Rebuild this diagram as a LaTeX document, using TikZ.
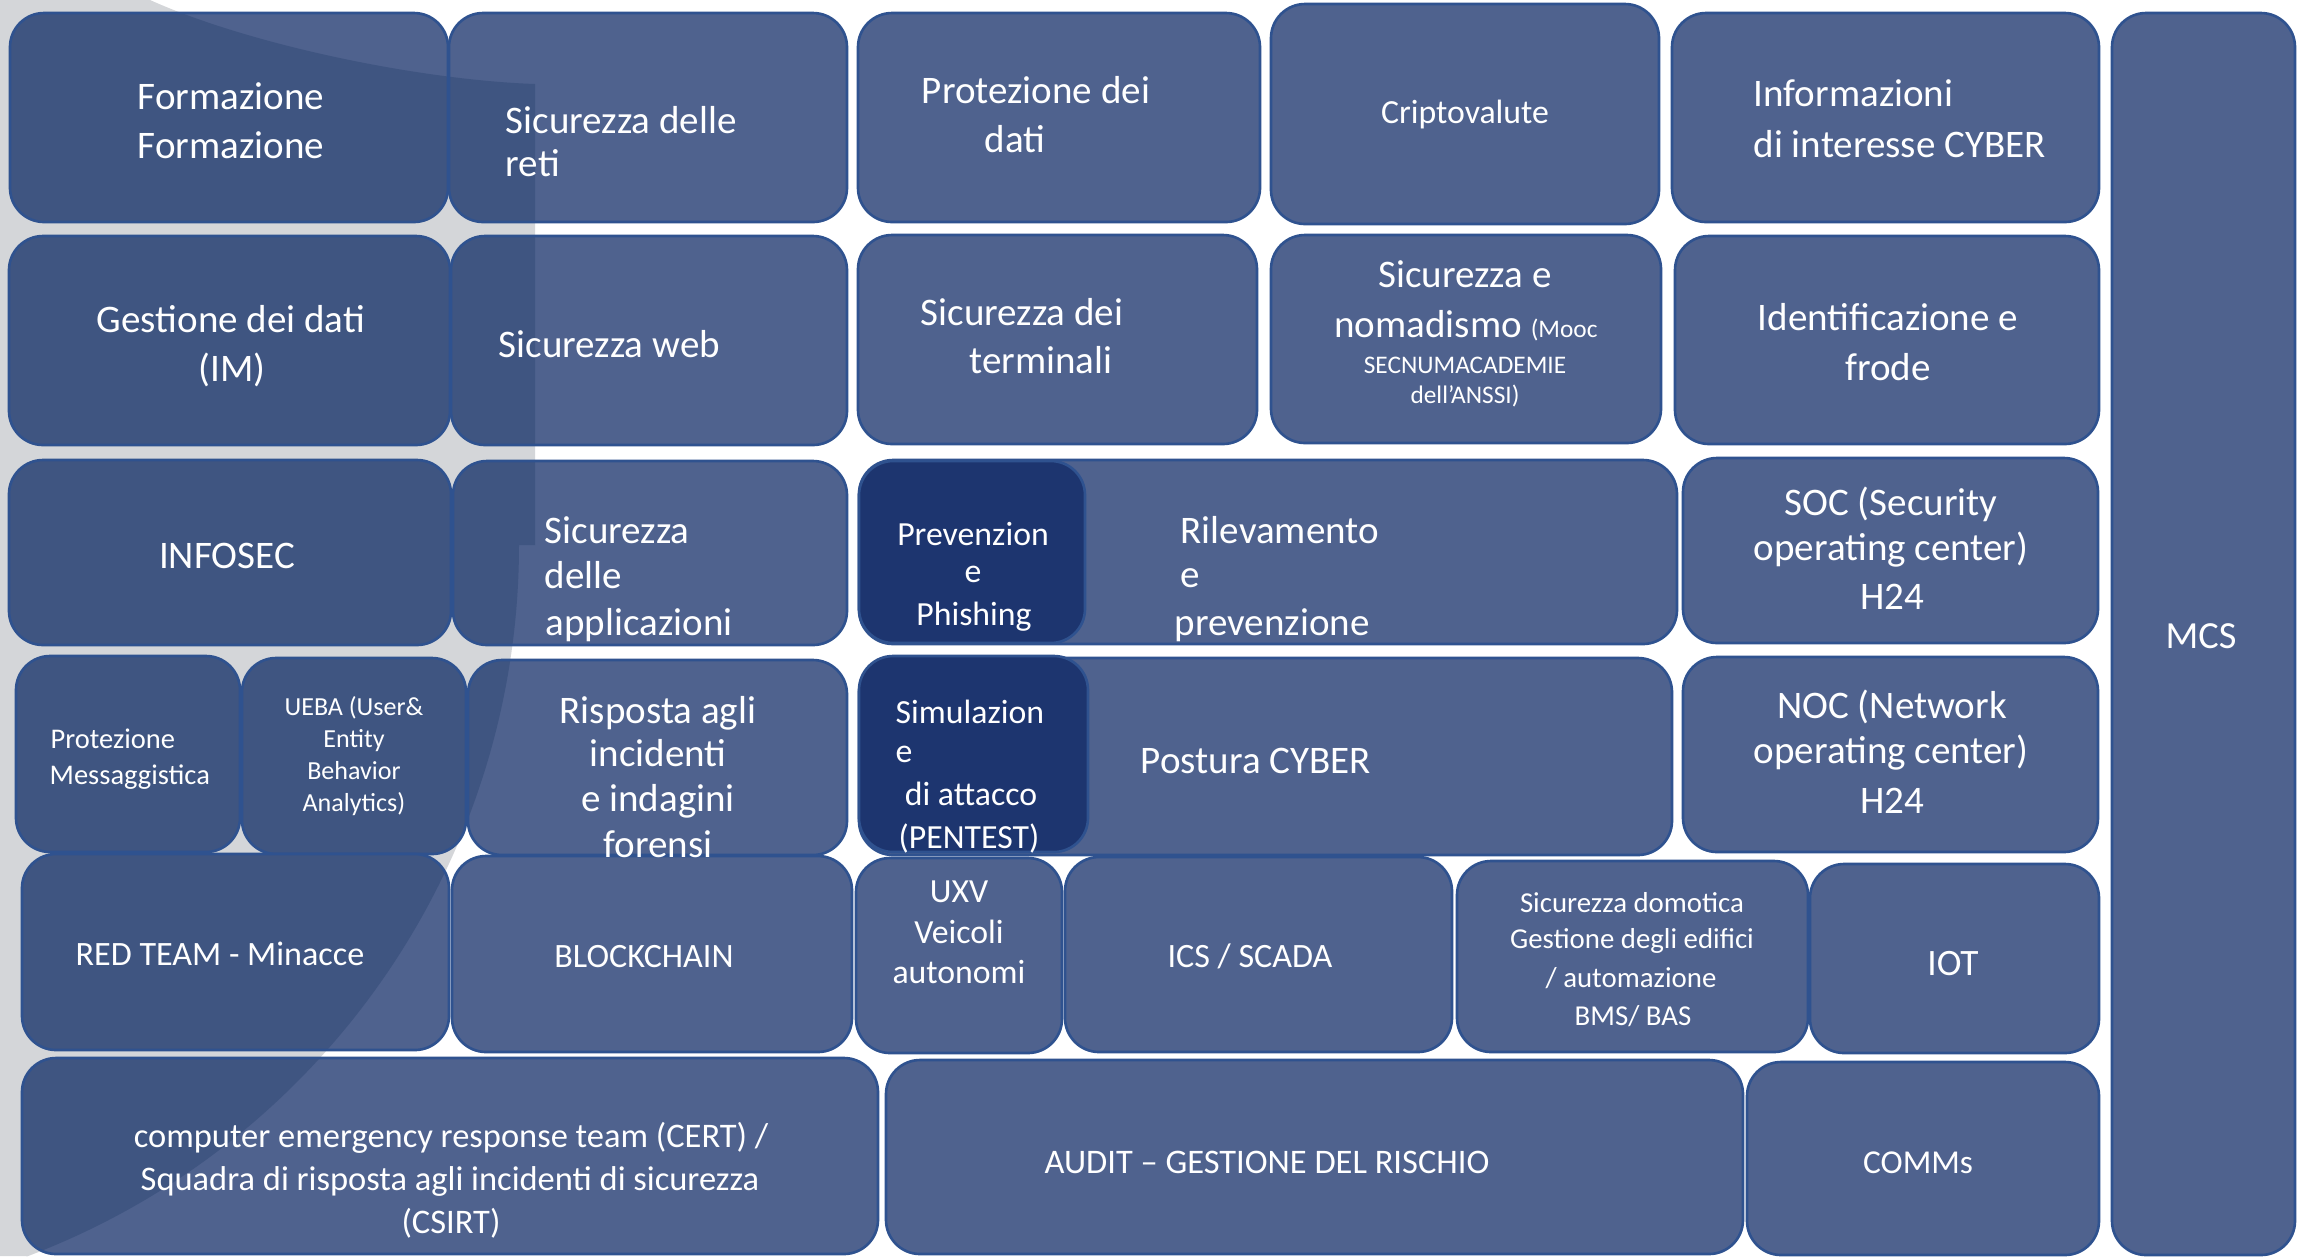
\documentclass[tikz,border=0pt]{standalone}
\usepackage{fontspec}
\setmainfont{Carlito}
\usetikzlibrary{fit}
\definecolor{boxc}{RGB}{79,98,142}
\definecolor{boxg}{RGB}{63,85,129}
\definecolor{darkc}{RGB}{29,53,111}
\definecolor{bordc}{RGB}{47,82,143}
\definecolor{grayc}{RGB}{212,214,217}
\newcommand\fz[1]{\fontsize{#1pt}{#1pt}\selectfont}
\begin{document}
\begin{tikzpicture}[x=0.01cm,y=-0.01cm,
  boxbase/.style={draw=bordc, line width=0.75pt, rounded corners=9.7pt, inner sep=0pt, outer sep=0pt},
  lbox/.style={boxbase, fill=boxc, path picture={\fill[boxg, sharp corners] (g1) -- (g2) .. controls (g3) and (g4) .. (g5) -- (g6) -- (g7) arc[start angle=0,end angle=-69.35,radius=7.6cm] -- (g8) -- (g9) -- cycle;}},
  dbox/.style={boxbase, fill=darkc},
  tx/.style={text=white, inner sep=0pt, anchor=base},
  txl/.style={tx, anchor=base west}]
\useasboundingbox (0,0) rectangle (2308,1256);
\fill[white] (0,0) rectangle (2308,1256);
\coordinate (g1) at (0,0);
\coordinate (g2) at (150,0);
\coordinate (g3) at (250,45);
\coordinate (g4) at (420,80);
\coordinate (g5) at (535,84);
\coordinate (g6) at (535,545);
\coordinate (g7) at (519,545);
\coordinate (g8) at (27,1256);
\coordinate (g9) at (0,1256);
\fill[grayc] (g1) -- (g2) .. controls (g3) and (g4) .. (g5) -- (g6) -- (g7) arc[start angle=0,end angle=-69.35,radius=7.6cm] -- (g8) -- (g9) -- cycle;

% boxes
\node[lbox, fit={(2112,13) (2295,1255)}] (mcs) {};
\node[lbox, fit={(10,13) (448,222)}] (formazione) {};
\node[lbox, fit={(449,13) (847,222)}] (reti) {};
\node[lbox, fit={(858,13) (1260,222)}] (protdati) {};
\node[lbox, fit={(1271,4) (1659,224)}] (cripto) {};
\node[lbox, fit={(1672,13) (2099,222)}] (info) {};
\node[lbox, fit={(9,236) (450,445)}] (gestione) {};
\node[lbox, fit={(451,236) (847,445)}] (web) {};
\node[lbox, fit={(858,235) (1257,444)}] (terminali) {};
\node[lbox, fit={(1271,235) (1661,443)}] (nomad) {};
\node[lbox, fit={(1675,236) (2099,444)}] (ident) {};
\node[lbox, fit={(9,460) (451,645)}] (infosec) {};
\node[lbox, fit={(453,461) (847,645)}] (applic) {};
\node[lbox, fit={(859,460) (1677,644)}] (rilev) {};
\node[dbox, fit={(859,461) (1085,643)}] (prevph) {};
\node[lbox, fit={(1683,458) (2098,643)}] (soc) {};
\node[lbox, fit={(16,656) (240,852)}] (protmsg) {};
\node[lbox, fit={(242,658) (466,854)}] (ueba) {};
\node[lbox, fit={(468,660) (847,855)}] (risposta) {};
\node[lbox, fit={(859,658) (1672,855)}] (postura) {};
\node[dbox, fit={(859,656) (1088,852)}] (simul) {};
\node[lbox, fit={(1683,657) (2098,852)}] (noc) {};
\node[lbox, fit={(22,854) (449,1050)}] (redteam) {};
\node[lbox, fit={(452,856) (852,1052)}] (blockchain) {};
\node[lbox, fit={(856,858) (1062,1053)}] (uxv) {};
\node[lbox, fit={(1065,857) (1452,1052)}] (ics) {};
\node[lbox, fit={(1457,861) (1808,1052)}] (domotica) {};
\node[lbox, fit={(1810,864) (2099,1053)}] (iot) {};
\node[lbox, fit={(22,1058) (878,1254)}] (cert) {};
\node[lbox, fit={(886,1060) (1743,1254)}] (audit) {};
\node[lbox, fit={(1747,1062) (2099,1255)}] (comms) {};

% texts
\node[tx,font=\fz{11.1}] (tform1) at (231,109) {Formazione};
\node[tx,font=\fz{11.1}] (tform2) at (231,158) {Formazione};
\node[txl,font=\fz{11.1}] (treti1) at (505,133) {Sicurezza delle};
\node[txl,font=\fz{11.1}] (treti2) at (505,176) {reti};
\node[tx,font=\fz{11.1}] (tprot1) at (1036,103) {Protezione dei};
\node[tx,font=\fz{11.1}] (tprot2) at (1015,152) {dati};
\node[tx,font=\fz{9.6}] (tcripto) at (1465,123) {Criptovalute};
\node[txl,font=\fz{11.1}] (tinfo1) at (1753,106) {Informazioni};
\node[txl,font=\fz{11.1}] (tinfo2) at (1753,157) {di interesse CYBER};
\node[tx,font=\fz{10.9}] (tmcs) at (2201,648) {MCS};
\node[tx,font=\fz{11.1}] (tgest1) at (231,332) {Gestione dei dati};
\node[tx,font=\fz{11.1}] (tgest2) at (232,381) {(IM)};
\node[txl,font=\fz{11.1}] (tweb) at (498,357) {Sicurezza web};
\node[tx,font=\fz{11.1}] (tterm1) at (1022,325) {Sicurezza dei};
\node[tx,font=\fz{11.1}] (tterm2) at (1041,373) {terminali};
\node[tx,font=\fz{11.1}] (tnom1) at (1465,287) {Sicurezza e};
\node[tx,font=\fz{11.1}] (tnom2) at (1466,337) {nomadismo {\fz{7.2}(Mooc}};
\node[tx,font=\fz{7.2}] (tnom3) at (1465,373) {SECNUMACADEMIE};
\node[tx,font=\fz{7.2}] (tnom4) at (1465,403) {dell'ANSSI)};
\node[tx,font=\fz{11.1}] (tid1) at (1888,330) {Identificazione e};
\node[tx,font=\fz{11.1}] (tid2) at (1888,380) {frode};
\node[tx,font=\fz{11.1}] (tinfosec) at (227,568) {INFOSEC};
\node[txl,font=\fz{11.1}] (tapp1) at (544,543) {Sicurezza};
\node[txl,font=\fz{11.1}] (tapp2) at (544,588) {delle};
\node[txl,font=\fz{11.1}] (tapp3) at (545,635) {applicazioni};
\node[txl,font=\fz{11.1}] (tril1) at (1180,543) {Rilevamento};
\node[txl,font=\fz{11.1}] (tril2) at (1180,587) {e};
\node[txl,font=\fz{11.1}] (tril3) at (1174,635) {prevenzione};
\node[tx,font=\fz{9.6}] (tphi1) at (973,545) {Prevenzion};
\node[tx,font=\fz{9.6}] (tphi2) at (973,582) {e};
\node[tx,font=\fz{9.6}] (tphi3) at (974,625) {Phishing};
\node[tx,font=\fz{11.1}] (tsoc1) at (1891,515) {SOC (Security};
\node[tx,font=\fz{11.1}] (tsoc2) at (1891,560) {operating center)};
\node[tx,font=\fz{11.1}] (tsoc3) at (1892,609) {H24};
\node[txl,font=\fz{8.1}] (tmsg1) at (50,748) {Protezione};
\node[txl,font=\fz{8.1}] (tmsg2) at (49,784) {Messaggistica};
\node[tx,font=\fz{7.4}] (tueba1) at (354,715) {UEBA (User\&};
\node[tx,font=\fz{7.4}] (tueba2) at (354,747) {Entity};
\node[tx,font=\fz{7.4}] (tueba3) at (354,779) {Behavior};
\node[tx,font=\fz{7.4}] (tueba4) at (354,811) {Analytics)};
\node[tx,font=\fz{11.1}] (trisp1) at (658,723) {Risposta agli};
\node[tx,font=\fz{11.1}] (trisp2) at (658,766) {incidenti};
\node[tx,font=\fz{11.1}] (trisp3) at (658,811) {e indagini};
\node[tx,font=\fz{11.1}] (trisp4) at (658,857) {forensi};
\node[txl,font=\fz{9.6}] (tsim1) at (895,723) {Simulazion};
\node[txl,font=\fz{9.6}] (tsim2) at (895,762) {e};
\node[tx,font=\fz{9.6}] (tsim3) at (971,805) {di attacco};
\node[tx,font=\fz{9.6}] (tsim4) at (969,848) {(PENTEST)};
\node[tx,font=\fz{11.1}] (tpost) at (1256,773) {Postura CYBER};
\node[tx,font=\fz{11.1}] (tnoc1) at (1892,718) {NOC (Network};
\node[tx,font=\fz{11.1}] (tnoc2) at (1891,763) {operating center)};
\node[tx,font=\fz{11.1}] (tnoc3) at (1892,813) {H24};
\node[tx,font=\fz{9.7}] (tred) at (220,965) {RED TEAM - Minacce};
\node[tx,font=\fz{9.7}] (tblock) at (644,967) {BLOCKCHAIN};
\node[tx,font=\fz{9.6}] (tuxv1) at (959,902) {UXV};
\node[tx,font=\fz{9.6}] (tuxv2) at (959,943) {Veicoli};
\node[tx,font=\fz{9.6}] (tuxv3) at (959,983) {autonomi};
\node[tx,font=\fz{9.7}] (tics) at (1250,967) {ICS / SCADA};
\node[tx,font=\fz{8.2}] (tdom1) at (1632,912) {Sicurezza domotica};
\node[tx,font=\fz{8.2}] (tdom2) at (1632,948) {Gestione degli edifici};
\node[tx,font=\fz{8.2}] (tdom3) at (1631,987) {/ automazione};
\node[tx,font=\fz{8.2}] (tdom4) at (1633,1025) {BMS/ BAS};
\node[tx,font=\fz{10.6}] (tiot) at (1953,975) {IOT};
\node[tx,font=\fz{9.8}] (tcert1) at (451,1147) {computer emergency response team (CERT) /};
\node[tx,font=\fz{9.8}] (tcert2) at (450,1190) {Squadra di risposta agli incidenti di sicurezza};
\node[tx,font=\fz{9.8}] (tcert3) at (451,1233) {(CSIRT)};
\node[tx,font=\fz{9.8}] (taudit) at (1267,1173) {AUDIT – GESTIONE DEL RISCHIO};
\node[tx,font=\fz{9.5}] (tcomms) at (1918,1173) {COMMs};
\end{tikzpicture}
\end{document}
